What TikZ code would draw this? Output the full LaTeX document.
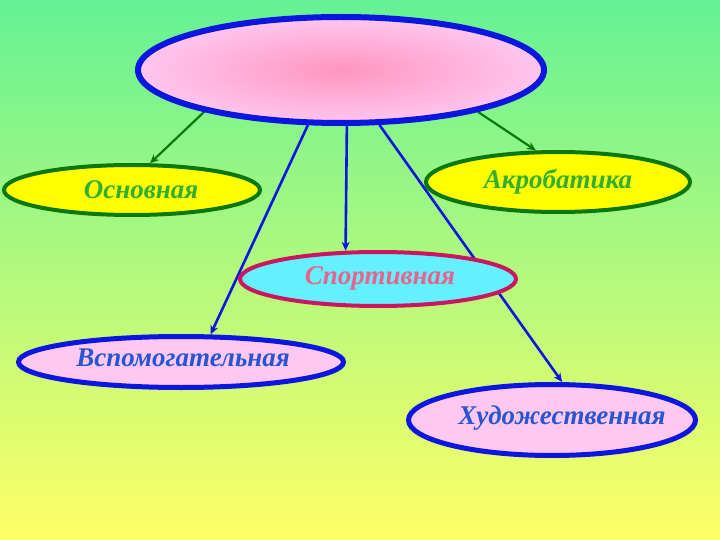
\documentclass[tikz,border=0pt]{standalone}
\usepackage{fontspec}
\setmainfont{Liberation Serif}
\usetikzlibrary{shapes.geometric,arrows.meta}
\definecolor{bgtop}{RGB}{100,242,148}
\definecolor{bgbot}{RGB}{255,255,102}
\definecolor{bblue}{RGB}{12,22,225}
\definecolor{dgreen}{RGB}{10,120,10}
\definecolor{lgreen}{RGB}{50,175,50}
\definecolor{pinkin}{RGB}{255,150,190}
\definecolor{pinkout}{RGB}{255,198,240}
\definecolor{lpink}{RGB}{255,200,240}
\definecolor{cyanf}{RGB}{100,240,255}
\definecolor{crim}{RGB}{205,20,95}
\definecolor{spt}{RGB}{232,100,140}
\definecolor{tblue}{RGB}{40,85,210}
\definecolor{ayel}{RGB}{255,255,0}
\pgfdeclarelayer{bg}\pgfdeclarelayer{edges}\pgfsetlayers{bg,edges,main}
\begin{document}
\begin{tikzpicture}[x=1pt,y=-1pt,
  ell/.style={ellipse,inner sep=0pt},
  lbl/.style={font=\fontsize{27}{30}\selectfont\bfseries\itshape},
  garrow/.style={draw=dgreen,line width=2.2pt,-{Stealth[length=9pt,width=8pt]}},
  barrow/.style={draw=bblue,line width=2.6pt,-{Stealth[length=9pt,width=8pt]}}]
\begin{pgfonlayer}{bg}
\shade[top color=bgtop,bottom color=bgbot] (0,0) rectangle (720,540);
\end{pgfonlayer}
\useasboundingbox (0,0) rectangle (720,540);
\node[ell,minimum width=406,minimum height=106,draw=bblue,line width=6pt,
  inner color=pinkin,outer color=pinkout] (top) at (341,70) {};
\node[ell,minimum width=256,minimum height=50,draw=dgreen,line width=4pt,fill=ayel] (osn) at (132,190) {};
\node[lbl,text=lgreen] (osnt) at (141,190) {Основная};
\node[ell,minimum width=264,minimum height=60,draw=dgreen,line width=4pt,fill=ayel] (akr) at (558,182) {};
\node[lbl,text=lgreen] (akrt) at (558,182) {Акробатика};
\node[ell,minimum width=276,minimum height=54,draw=crim,line width=4pt,fill=cyanf] (spo) at (378,279) {};
\node[lbl,text=spt] (spot) at (380,278) {Спортивная};
\node[ell,minimum width=325,minimum height=51,draw=bblue,line width=5pt,fill=lpink] (vsp) at (181,362) {};
\node[lbl,text=tblue] (vspt) at (183,358) {Вспомогательная};
\node[ell,minimum width=287,minimum height=71,draw=bblue,line width=5pt,fill=lpink] (hud) at (552,420) {};
\node[lbl,text=tblue] (hudt) at (562,418) {Художественная};
\begin{pgfonlayer}{edges}
\draw[garrow] (top.197) -- (osn.56);
\draw[garrow] (top.343) -- (akr.125);
\draw[barrow] (top.239) -- (vsp.43);
\draw[barrow] (top.276) -- (spo.139);
\draw[barrow] (top.305) -- (hud.75);
\end{pgfonlayer}
\end{tikzpicture}
\end{document}
